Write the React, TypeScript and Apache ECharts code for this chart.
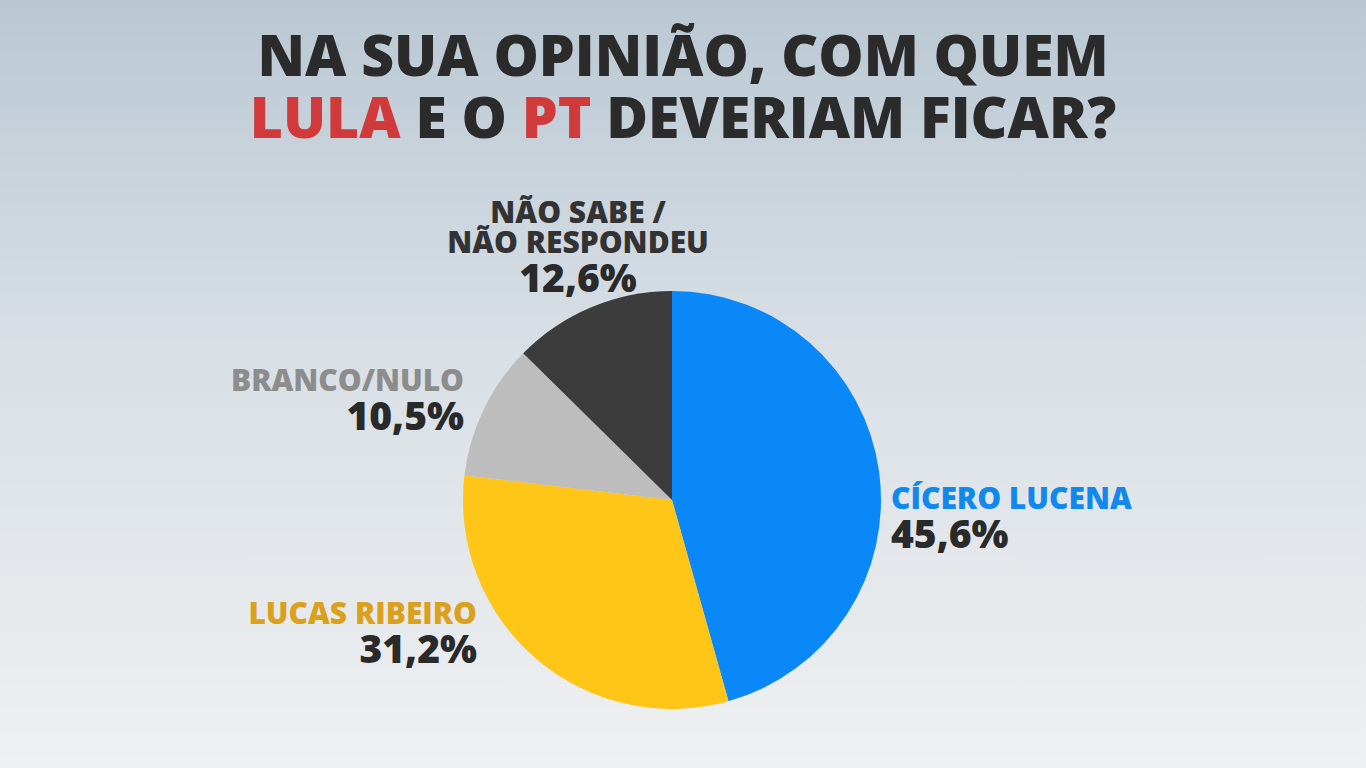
import React, { useEffect, useRef } from "react";
import * as echarts from "echarts";

const categories = ["CÍCERO LUCENA", "LUCAS RIBEIRO", "BRANCO/NULO", "NÃO SABE /\nNÃO RESPONDEU"];
const values = [45.6, 31.2, 10.5, 12.6];
const sliceColors = ["#0a88f8", "#ffc517", "#bdbdbd", "#3c3c3c"];
const nameColors = ["#1188ee", "#dba01c", "#8c8c8c", "#333333"];
const titleLine1 = "NA SUA OPINIÃO, COM QUEM";
const titleLine2 = ["LULA", " E O ", "PT", " DEVERIAM FICAR?"];

const FONT = "'Open Sans', 'DejaVu Sans', sans-serif";

// label anchors (layout only)
const labelAnchors = [
  { x: 891, y: 517, align: "left" },
  { x: 477, y: 632, align: "right" },
  { x: 464, y: 399, align: "right" },
  { x: 578, y: 246, align: "center" },
];

export default function App() {
  const ref = useRef<HTMLDivElement>(null);
  useEffect(() => {
    if (!ref.current) return;
    const chart = echarts.init(ref.current, null, { renderer: "svg" });
    const rich: any = {
      v: { fontFamily: FONT, fontWeight: 800, fontSize: 39, lineHeight: 39, color: "#2a2a2a" },
    };
    nameColors.forEach((c, i) => {
      rich["n" + i] = { fontFamily: FONT, fontWeight: 800, fontSize: 30, lineHeight: 30, color: c };
    });
    const title2 = titleLine2
      .map((t, i) => (i % 2 === 0 ? `{r|${t}}` : `{d|${t}}`))
      .join("");
    chart.setOption({
      animation: false,
      backgroundColor: {
        type: "linear",
        x: 0, y: 0, x2: 0, y2: 1,
        colorStops: [
          { offset: 0, color: "#bac8d3" },
          { offset: 0.45, color: "#d8dfe5" },
          { offset: 1, color: "#eff0f1" },
        ],
      },
      title: {
        left: "center",
        top: 18,
        text: `{d|${titleLine1}}\n${title2}`,
        textStyle: {
          rich: {
            d: { fontFamily: FONT, fontWeight: 800, fontSize: 57, lineHeight: 62, color: "#2b2b2b" },
            r: { fontFamily: FONT, fontWeight: 800, fontSize: 57, lineHeight: 62, color: "#d13a3a" },
          },
        },
      },
      series: [
        {
          type: "pie",
          center: [672, 500],
          radius: [0, 209],
          startAngle: 90,
          clockwise: true,
          silent: true,
          data: categories.map((name, i) => ({
            name,
            value: values[i],
            itemStyle: { color: sliceColors[i] },
          })),
          label: {
            show: true,
            position: "outside",
            formatter: (p: any) =>
              p.name
                .split("\n")
                .map((s: string) => `{n${p.dataIndex}|${s}}`)
                .join("\n") +
              `\n{v|${p.value.toFixed(1).replace(".", ",")}%}`,
            rich,
          },
          labelLine: { show: false },
          labelLayout: (params: any) => {
            const a = labelAnchors[params.dataIndex];
            return { x: a.x, y: a.y, align: a.align, verticalAlign: "middle" };
          },
        },
      ],
    });
    return () => chart.dispose();
  }, []);
  return (
    <div
      ref={ref}
      style={{ position: "absolute", left: 0, top: 0, width: 1366, height: 768 }}
    />
  );
}
